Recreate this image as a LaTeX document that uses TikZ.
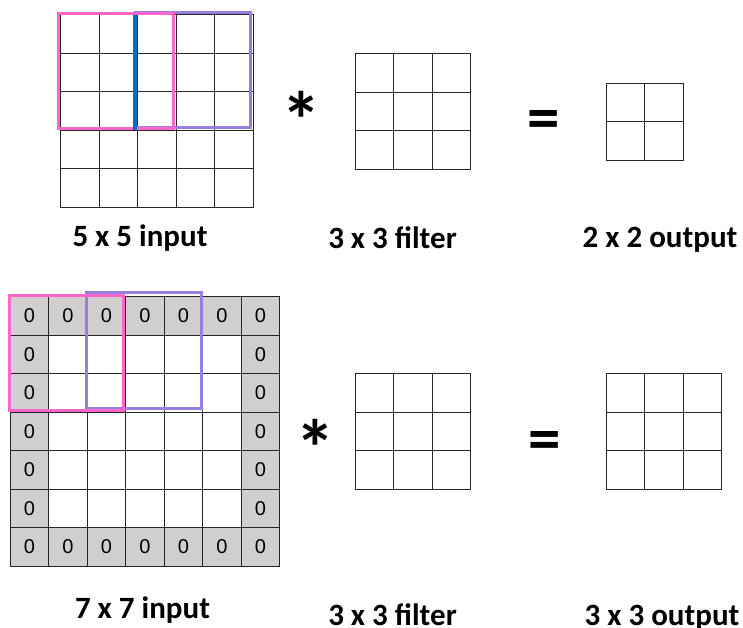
\documentclass[tikz,border=0pt]{standalone}
\usepackage{fontspec}
\setmainfont{Carlito}
\newfontfamily\zerofont{Liberation Sans}
\usetikzlibrary{matrix}
\definecolor{padgray}{RGB}{208,206,206}
\definecolor{winpink}{RGB}{255,102,204}
\definecolor{winpurple}{RGB}{153,127,221}
\definecolor{winblue}{RGB}{0,112,192}
\tikzset{
  gridcell/.style={draw=black!85, line width=1.2pt, minimum width=38.5pt, minimum height=38.5pt, inner sep=0pt, outer sep=0pt, fill=white, anchor=center},
  padcell/.style={gridcell, fill=padgray, font=\zerofont\fontsize{20}{20}\selectfont},
  gridmat/.style={matrix of nodes, nodes in empty cells, inner sep=0pt, outer sep=0pt, nodes={gridcell}, row sep=-1.2pt, column sep=-1.2pt},
  sizelabel/.style={font=\bfseries\fontsize{31}{31}\selectfont, anchor=base, inner sep=0pt},
  starsign/.style={font=\bfseries\fontsize{80}{80}\selectfont, anchor=base, inner sep=0pt},
  eqsign/.style={font=\bfseries\fontsize{65}{65}\selectfont, anchor=base, inner sep=0pt},
  window/.style={line width=3pt}
}

\begin{document}
\begin{tikzpicture}[x=1pt, y=-1pt]
  \useasboundingbox (0,0) rectangle (743,627);

  \matrix (in5) [gridmat] at (157,111) {
    & & & & \\
    & & & & \\
    & & & & \\
    & & & & \\
    & & & & \\
  };
  \draw[window, winpurple] ([xshift=-2.5pt,yshift=2.5pt]in5-1-3.north west) rectangle ([xshift=-2.5pt,yshift=2.5pt]in5-3-5.south east);
  \draw[window, winpink] ([xshift=-2pt,yshift=1pt]in5-1-1.north west) rectangle ([xshift=-3pt,yshift=2pt]in5-3-3.south east);
  \draw[winblue, line width=4pt] ([xshift=-2.5pt]in5-1-3.north west) -- ([xshift=-2.5pt]in5-3-3.south west);
  \node[starsign] (star1) at (301.5,148.5) {*};
  \matrix (filt1) [gridmat] at (413,111.5) {
    & & \\
    & & \\
    & & \\
  };
  \node[eqsign] (eq1) at (544,139.5) {=};
  \matrix (out1) [gridmat] at (644.75,121.75) {
    & \\
    & \\
  };
  \node[sizelabel] (lin5) at (140,246) {5 x 5 input};
  \node[sizelabel] (lfilt1) at (392.5,248) {3 x 3 filter};
  \node[sizelabel] (lout1) at (660,247) {2 x 2 output};

  \matrix (in7) [gridmat, row 1/.style={nodes={padcell}}, row 7/.style={nodes={padcell}},
    column 1/.style={nodes={padcell}}, column 7/.style={nodes={padcell}}] at (145,431.5) {
    0 & 0 & 0 & 0 & 0 & 0 & 0 \\
    0 & & & & & & 0 \\
    0 & & & & & & 0 \\
    0 & & & & & & 0 \\
    0 & & & & & & 0 \\
    0 & & & & & & 0 \\
    0 & 0 & 0 & 0 & 0 & 0 & 0 \\
  };
  \draw[window, winpurple] ([xshift=-0.5pt,yshift=4pt]in7-1-3.north west) rectangle ([xshift=-1.75pt,yshift=4pt]in7-3-5.south east);
  \draw[window, winpink] ([xshift=-1.25pt,yshift=1.75pt]in7-1-1.north west) rectangle ([xshift=-2.5pt,yshift=1.5pt]in7-3-3.south east);
  \node[starsign] (star2) at (315.5,476) {*};
  \matrix (filt2) [gridmat] at (413,431.5) {
    & & \\
    & & \\
    & & \\
  };
  \node[eqsign] (eq2) at (544.3,460.5) {=};
  \matrix (out2) [gridmat] at (664,431.5) {
    & & \\
    & & \\
    & & \\
  };
  \node[sizelabel] (lin7) at (142.5,618) {7 x 7 input};
  \node[sizelabel] (lfilt2) at (392.5,625) {3 x 3 filter};
  \node[sizelabel] (lout2) at (662,625) {3 x 3 output};
\end{tikzpicture}
\end{document}
